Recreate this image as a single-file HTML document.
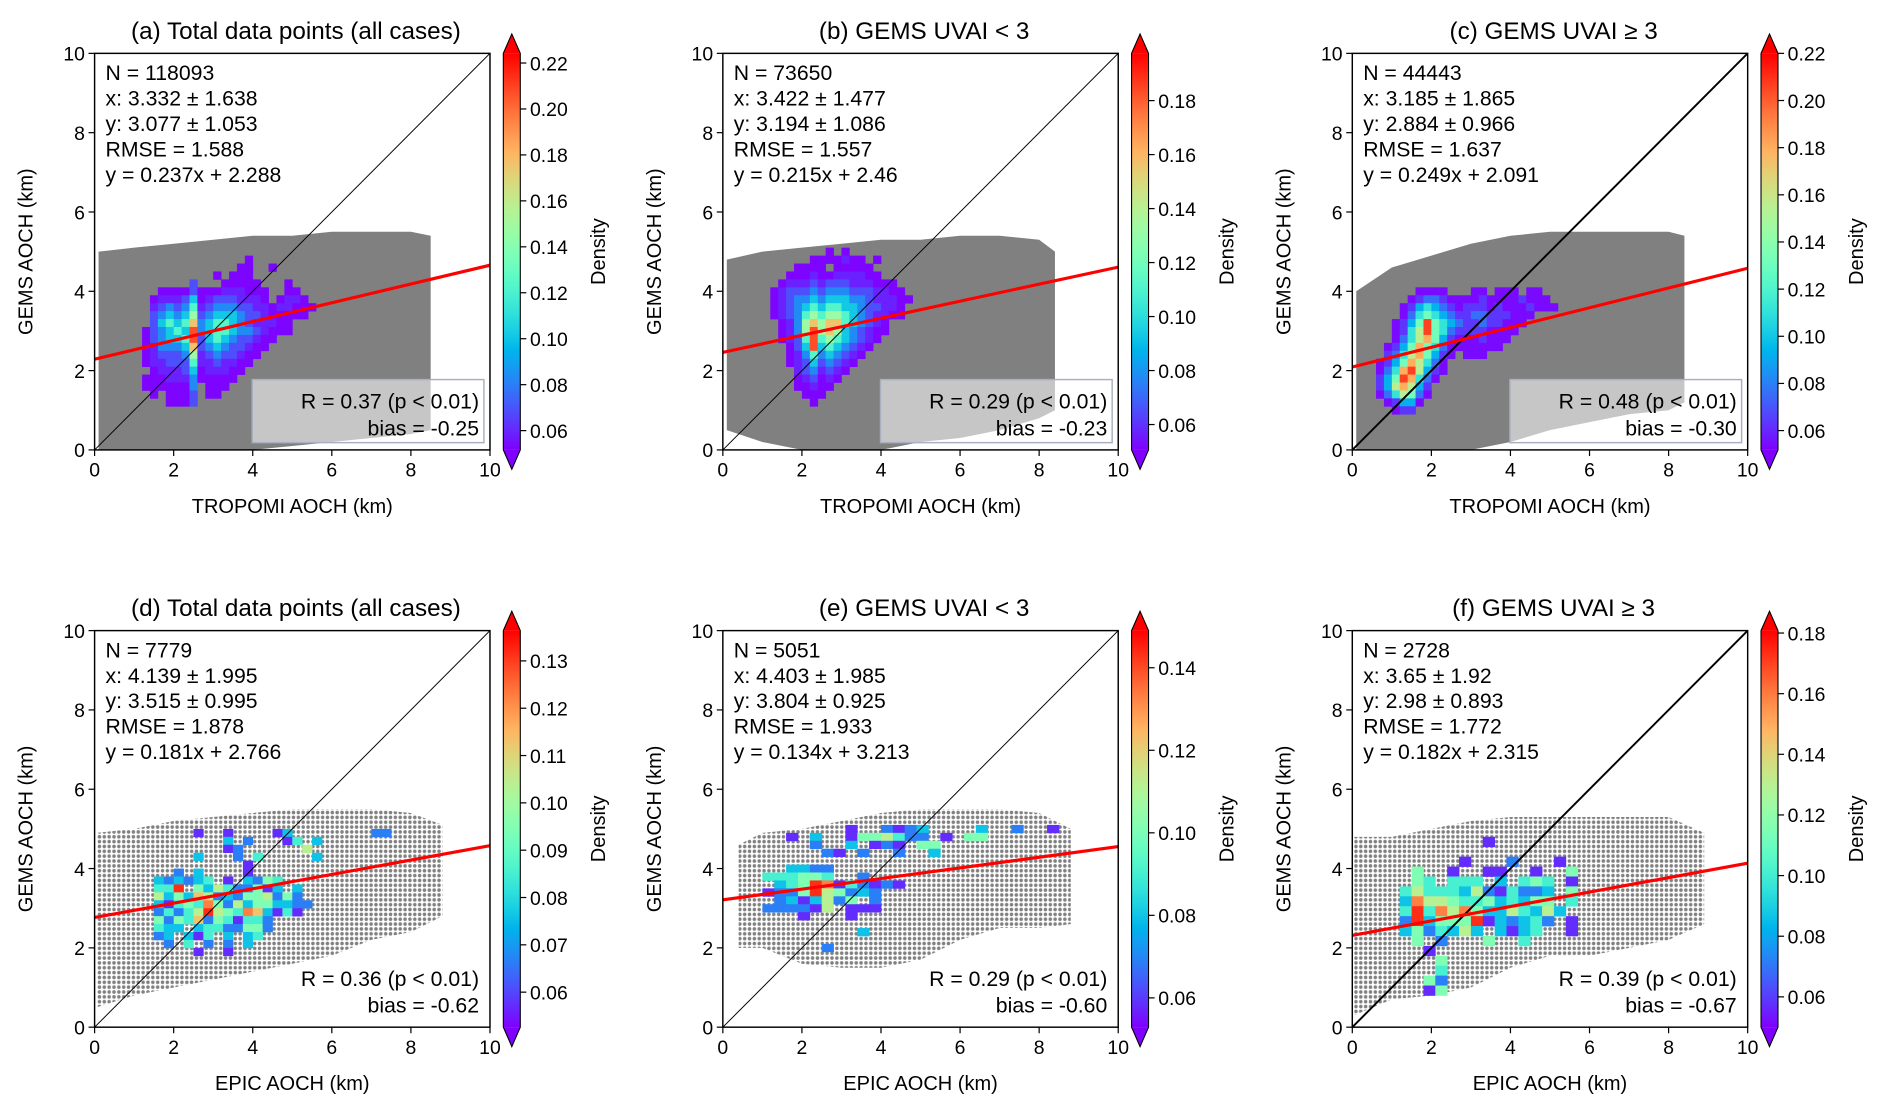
<!DOCTYPE html>
<html><head><meta charset="utf-8"><title>GEMS AOCH comparison</title>
<style>html,body{margin:0;padding:0;background:#fff}svg{display:block}text{font-family:"Liberation Sans",sans-serif;fill:#000}</style>
</head><body>
<svg id="fig" width="1892" height="1106" viewBox="0 0 1560 912" preserveAspectRatio="none" xmlns="http://www.w3.org/2000/svg">
<defs>
<pattern id="dots" width="4" height="4" patternUnits="userSpaceOnUse"><circle cx="2" cy="2" r="1.45" fill="#808080"/></pattern>
</defs>
</svg>
<script>
// ---------- data ----------
const titles = ["(a) Total data points (all cases)","(b) GEMS UVAI < 3","(c) GEMS UVAI \u2265 3","(d) Total data points (all cases)","(e) GEMS UVAI < 3","(f) GEMS UVAI \u2265 3"];
const xLabels = ["TROPOMI AOCH (km)","TROPOMI AOCH (km)","TROPOMI AOCH (km)","EPIC AOCH (km)","EPIC AOCH (km)","EPIC AOCH (km)"];
const statN = ["118093","73650","44443","7779","5051","2728"];
const statX = ["3.332 \u00b1 1.638","3.422 \u00b1 1.477","3.185 \u00b1 1.865","4.139 \u00b1 1.995","4.403 \u00b1 1.985","3.65 \u00b1 1.92"];
const statY = ["3.077 \u00b1 1.053","3.194 \u00b1 1.086","2.884 \u00b1 0.966","3.515 \u00b1 0.995","3.804 \u00b1 0.925","2.98 \u00b1 0.893"];
const statRMSE = ["1.588","1.557","1.637","1.878","1.933","1.772"];
const slopes = [0.237,0.215,0.249,0.181,0.134,0.182];
const intercepts = [2.288,2.46,2.091,2.766,3.213,2.315];
const corrR = ["0.37","0.29","0.48","0.36","0.29","0.39"];
const biases = ["-0.25","-0.23","-0.30","-0.62","-0.60","-0.67"];
const cbMin = [0.0516,0.0506,0.0518,0.0526,0.0529,0.05];
const cbMax = [0.2242,0.1975,0.22,0.1364,0.149,0.1808];
const cbTicks = [
 [0.06,0.08,0.10,0.12,0.14,0.16,0.18,0.20,0.22],
 [0.06,0.08,0.10,0.12,0.14,0.16,0.18],
 [0.06,0.08,0.10,0.12,0.14,0.16,0.18,0.20,0.22],
 [0.06,0.07,0.08,0.09,0.10,0.11,0.12,0.13],
 [0.06,0.08,0.10,0.12,0.14],
 [0.06,0.08,0.10,0.12,0.14,0.16,0.18]];
const axisTicks = [0,2,4,6,8,10];
// point-cloud envelopes (km)
const cloudX = [
 [0.1,1,2,3,4,5,6,7,8,8.5],[0.1,1,2,3,4,5,6,7,8,8.4],[0.1,1,2,3,4,5,6,7,8,8.4],
 [0.05,1,2,3,4,5,6,7,8,8.8],[0.4,1,2,3,4,5,6,7,8,8.8],[0.05,1,2,3,4,5,6,7,8,8.9]];
const cloudTop = [
 [5.0,5.1,5.2,5.3,5.4,5.4,5.5,5.5,5.5,5.4],[4.8,5.0,5.1,5.2,5.3,5.3,5.4,5.4,5.3,5.0],[4.0,4.6,4.9,5.2,5.4,5.5,5.5,5.5,5.5,5.4],
 [4.9,5.0,5.2,5.3,5.4,5.5,5.5,5.5,5.4,5.1],[4.6,4.9,5.0,5.2,5.4,5.5,5.5,5.5,5.4,5.0],[4.8,4.8,5.0,5.2,5.3,5.3,5.3,5.3,5.3,4.9]];
const cloudBot = [
 [0,0,0,0,0,0.1,0.2,0.3,0.4,0.5],[0.5,0.2,0,0,0,0.2,0.3,0.5,0.8,1.0],[0,0,0,0,0.2,0.5,0.7,0.9,1.0,1.2],
 [0.5,0.8,1.0,1.2,1.4,1.6,1.8,2.2,2.4,2.8],[2.0,2.0,1.6,1.5,1.5,1.7,2.2,2.5,2.5,2.6],[0.3,0.7,0.8,1.0,1.5,1.8,1.8,2.0,2.2,2.6]];
// density heatmaps: rows from top; digit = density level 1..9 (0 = empty)
const heatA = ["00000000000000100000000","00000000000001100100000","00000000001011100000000","00000003000111110001000","00011113111222111001100","00122235123332221012210","00234346234443322122111","00345457345554332111110","00356568456654322211000","01345659456654432111000","01345569356543321100000","01244458345433211000000","01233347234332110000000","01223336223221100000000","00122235122211000000000","01112224111110000000000","01111114011100000000000","00101113011000000000000","00001113000000000000000"];
const heatB = ["000000010100000000","000001111211010000","000111101111100000","001112112222110000","012223233322211100","123334344433322110","123445455544322211","123456566554332210","123467677654322110","012478788654321000","012479787543211000","012369676543210000","001359565432100000","001246454321000000","001235343210000000","000234232100000000","000123121000000000","000112110000000000","000011100000000000","000001000000000000"];
const heatC = ["0000011110001101110110000","0000123321111211112111000","0001245432122212111211100","0001356543223322211100000","0012469654322322111000000","0012579653222211110000000","0013578642111211100000000","0124686531111111000000000","0235786421011100000000000","1246875310000000000000000","1358974210000000000000000","2469853100000000000000000","2478742000000000000000000","1357631000000000000000000","0124410000000000000000000","0012200000000000000000000"];
const heatD = ["0000100100001300000000220","0000000302000140300000000","0000000120000006000000000","0000300020400000300000000","0000000001000000000000000","0020300001000000000000000","3232340103254000000000000","4490536422513030000000000","6353762325562520000000000","3145485263553322000000000","2424696548731410000000000","5254725414420000000000000","4330344225520000000000000","2303140303400000000000000","0204020203000000000000000","0000100100000000000000000"];
const heatE = ["0000000100212300003002001","0010300155642201055000000","0000200301210550000000000","0000021020020030000000000","0000000000000000000000000","0033220000000000000000000","4445540020000000000000000","0345981421210000000000000","1225965232000000000000000","0231362502000000000000000","2222160111000000000000000","0001000100000000000000000","0000000000000000000000000","0000000030000000000000000","0000000000000000000000000","0000020000000000000000000"];
const heatF = ["0000000100000000","0000000000000000","0000010002000100","0500100110010050","0540444030454010","4644436214223050","3866544534355040","4948685336436300","2935559132342010","3524363031340010","0502000500400000","0010000000000000","0005000000000000","0004000000000000","0052000000000000","0015000000000000"];
const heatGrids = [heatA,heatB,heatC,heatD,heatE,heatF];
// grid geometry (km): x0, y-top edge, dx, dy
const heatX0 = [1.0,1.2,0.6,1.5,1.0,1.2];
const heatYTop = [4.9,5.1,4.1,5.0,5.1,4.8];
const heatDX = [0.2,0.2,0.2,0.25,0.3,0.3];
const heatDY = [0.2,0.2,0.2,0.2,0.2,0.25];

// ---------- layout ----------
const colLeft = [78,596,1115];
const rowTop = [44,520];
const AW = 326, AH = 327;
const levelGamma = [1.8,1.8,1.5,1.0,1.0,1.0];
const svg = document.getElementById('fig');
const NS = 'http://www.w3.org/2000/svg';
function mk(tag, attrs, parent){const e=document.createElementNS(NS,tag);for(const k in attrs)e.setAttribute(k,attrs[k]);(parent||svg).appendChild(e);return e;}
function txt(s, attrs, parent){const e=mk('text',attrs,parent);e.textContent=s;return e;}
function rainbow(t){t=Math.max(0,Math.min(1,t));const r=Math.min(1,Math.abs(2*t-0.5)),g=Math.sin(Math.PI*t),b=Math.cos(Math.PI*t/2);return 'rgb('+Math.round(r*255)+','+Math.round(g*255)+','+Math.round(Math.max(0,b)*255)+')';}

const grad = mk('linearGradient',{id:'rb',x1:'0',y1:'1',x2:'0',y2:'0'},svg.querySelector('defs'));
for(let i=0;i<=20;i++){mk('stop',{offset:(i/20),'stop-color':rainbow(i/20)},grad);}

for(let p=0;p<6;p++){
 const L=colLeft[p%3], T=rowTop[Math.floor(p/3)], R=L+AW, B=T+AH;
 const sx=v=>L+v/10*AW, sy=v=>B-v/10*AH;
 const g=mk('g',{});
 
 
 const cp=mk('clipPath',{id:'clip'+p},svg.querySelector('defs'));
 mk('rect',{x:L,y:T,width:AW,height:AH},cp);
 const plot=mk('g',{'clip-path':'url(#clip'+p+')'},g);
 let pts=[];
 for(let i=0;i<cloudX[p].length;i++)pts.push(sx(cloudX[p][i])+','+sy(cloudTop[p][i]));
 for(let i=cloudX[p].length-1;i>=0;i--)pts.push(sx(cloudX[p][i])+','+sy(cloudBot[p][i]));
 const cl=mk('polygon',{points:pts.join(' '),fill:p<3?'#808080':'url(#dots)'},plot);
 
 
 const grid=heatGrids[p];
 for(let r=0;r<grid.length;r++){
  for(let c=0;c<grid[r].length;c++){
   const lv=+grid[r][c]; if(!lv)continue;
   const frac=Math.pow((lv-0.5)/9,levelGamma[p]);
   const val=cbMin[p]+frac*(cbMax[p]-cbMin[p]);
   const x0=heatX0[p]+c*heatDX[p], y1=heatYTop[p]-r*heatDY[p];
   const cell=mk('rect',{x:sx(x0),y:sy(y1),width:sx(x0+heatDX[p])-sx(x0)+0.3,height:sy(y1-heatDY[p])-sy(y1)+0.3,fill:rainbow((val-cbMin[p])/(cbMax[p]-cbMin[p]))},plot);
   
   
  }
 }
 const one=mk('line',{x1:sx(0),y1:sy(0),x2:sx(10),y2:sy(10),stroke:'#000','stroke-width':(p%3==2)?1.6:0.8},plot);
 
 
 const reg=mk('line',{x1:sx(0),y1:sy(intercepts[p]),x2:sx(10),y2:sy(intercepts[p]+slopes[p]*10),stroke:'#ff0000','stroke-width':2.6},plot);
 
 
 if(p<3){const lb=mk('rect',{x:R-196,y:B-58,width:191,height:52,fill:'rgba(255,255,255,0.55)',stroke:'#a8b0c0','stroke-width':1.2},g);
  
  }
 const lines=['N = '+statN[p],'x: '+statX[p],'y: '+statY[p],'RMSE = '+statRMSE[p],'y = '+slopes[p]+'x + '+intercepts[p]];
 lines.forEach((s,i)=>{const t=txt(s,{x:L+9,y:T+22+i*21,'font-size':17.5},g);});
 const t1=txt('R = '+corrR[p]+' (p < 0.01)',{x:R-9,y:B-34,'font-size':17.5,'text-anchor':'end'},g);
 
 const t2=txt('bias = '+biases[p],{x:R-9,y:B-12,'font-size':17.5,'text-anchor':'end'},g);
 
 const fr=mk('rect',{x:L,y:T,width:AW,height:AH,fill:'none',stroke:'#000','stroke-width':1.2},g);
 
 axisTicks.forEach(v=>{
  mk('line',{x1:sx(v),y1:B,x2:sx(v),y2:B+5,stroke:'#000','stroke-width':1},g);
  const xt=txt(String(v),{x:sx(v),y:B+22,'font-size':16,'text-anchor':'middle'},g);
  
  mk('line',{x1:L-5,y1:sy(v),x2:L,y2:sy(v),stroke:'#000','stroke-width':1},g);
  const yt=txt(String(v),{x:L-8,y:sy(v)+6,'font-size':16,'text-anchor':'end'},g);
  
 });
 const xl=txt(xLabels[p],{x:(L+R)/2,y:B+52,'font-size':16.5,'text-anchor':'middle'},g);
 
 const yl=txt('GEMS AOCH (km)',{x:0,y:0,'font-size':16.5,'text-anchor':'middle',transform:'translate('+(L-51)+','+((T+B)/2)+') rotate(-90)'},g);
 
 const ti=txt(titles[p],{x:(L+R)/2+3,y:T-12,'font-size':20,'text-anchor':'middle'},g);
 
 const cx=R+11, cw=14;
 const cb=mk('g',{},g);
 
 mk('rect',{x:cx,y:T,width:cw,height:AH,fill:'url(#rb)'},cb);
 mk('polygon',{points:cx+','+T+' '+(cx+cw/2)+','+(T-16)+' '+(cx+cw)+','+T,fill:rainbow(1)},cb);
 mk('polygon',{points:cx+','+B+' '+(cx+cw/2)+','+(B+16)+' '+(cx+cw)+','+B,fill:rainbow(0)},cb);
 mk('polygon',{points:cx+','+T+' '+(cx+cw/2)+','+(T-16)+' '+(cx+cw)+','+T+' '+(cx+cw)+','+B+' '+(cx+cw/2)+','+(B+16)+' '+cx+','+B,fill:'none',stroke:'#000','stroke-width':0.9},cb);
 const cy=v=>B-(v-cbMin[p])/(cbMax[p]-cbMin[p])*AH;
 cbTicks[p].forEach(v=>{
  mk('line',{x1:cx+cw,y1:cy(v),x2:cx+cw+5,y2:cy(v),stroke:'#000','stroke-width':1},cb);
  const ct=txt(v.toFixed(2),{x:cx+cw+8,y:cy(v)+6,'font-size':16},cb);
  
 });
 const dl=txt('Density',{x:0,y:0,'font-size':16.5,'text-anchor':'middle',transform:'translate('+(cx+84)+','+((T+B)/2)+') rotate(-90)'},cb);
 
}
</script>
</body></html>
